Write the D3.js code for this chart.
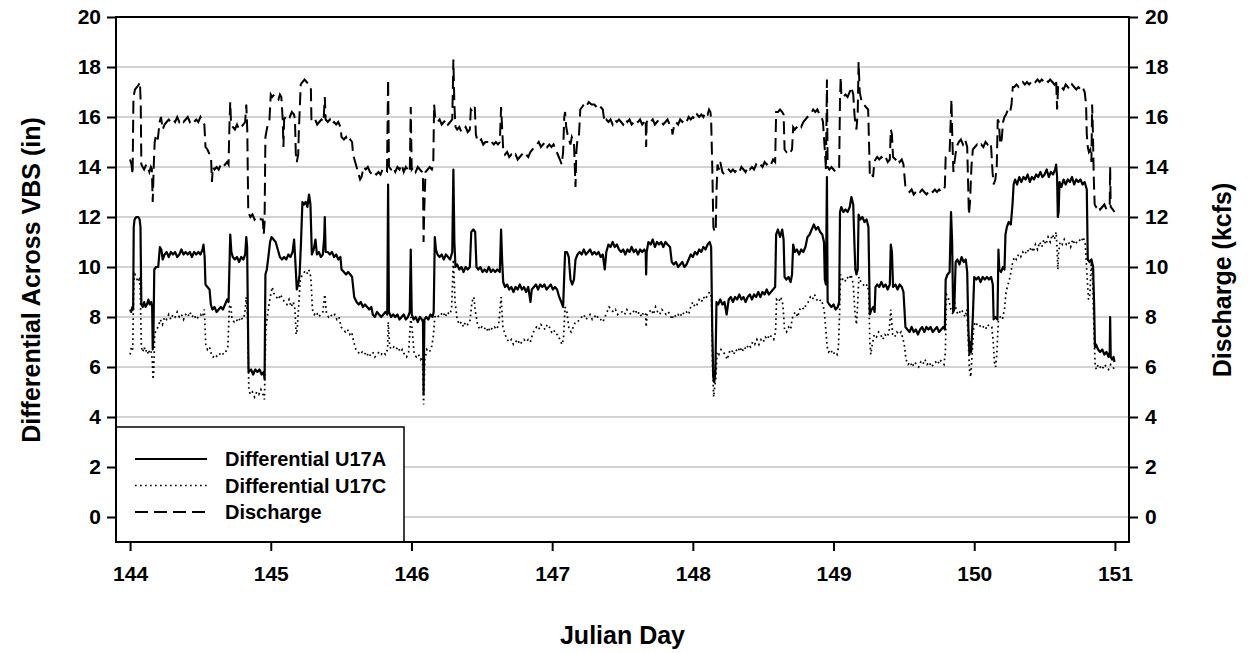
<!DOCTYPE html>
<html><head><meta charset="utf-8">
<script src="https://cdn.jsdelivr.net/npm/d3@7"></script>
<style>body{margin:0;background:#fff}svg{display:block}text{font-family:"Liberation Sans",Arial,sans-serif;font-weight:bold;fill:#000}</style>
</head><body><svg id="c" width="1248" height="653"></svg>
<script>
const xTicks=[144,145,146,147,148,149,150,151];
const yTicks=[0,2,4,6,8,10,12,14,16,18,20];
const legendLabels=["Differential U17A","Differential U17C","Discharge"];

const u17a=[[144.000,8.3],[144.008,8.2],[144.016,8.4],[144.022,8.3],[144.026,11.6],[144.032,11.9],[144.045,12.0],[144.058,12.0],[144.068,11.9],[144.074,11.6],[144.080,8.5],[144.090,8.4],[144.100,8.6],[144.110,8.4],[144.120,8.5],[144.130,8.7],[144.140,8.5],[144.150,8.6],[144.157,8.4],[144.161,6.7],[144.166,7.2],[144.172,9.9],[144.185,10.0],[144.200,10.0],[144.212,10.8],[144.222,10.7],[144.232,10.3],[144.245,10.5],[144.26,10.6],[144.275,10.4],[144.29,10.6],[144.305,10.5],[144.32,10.6],[144.335,10.4],[144.35,10.5],[144.365,10.7],[144.38,10.5],[144.395,10.6],[144.41,10.5],[144.425,10.6],[144.44,10.4],[144.455,10.6],[144.47,10.5],[144.485,10.6],[144.50,10.5],[144.515,10.7],[144.522,10.9],[144.530,10.4],[144.536,9.3],[144.55,9.2],[144.565,9.1],[144.574,8.5],[144.585,8.3],[144.60,8.4],[144.615,8.2],[144.63,8.3],[144.645,8.4],[144.66,8.3],[144.675,8.5],[144.69,8.7],[144.70,8.6],[144.712,11.3],[144.72,10.6],[144.73,10.4],[144.745,10.3],[144.76,10.4],[144.775,10.2],[144.79,10.4],[144.805,10.3],[144.818,10.5],[144.826,11.2],[144.832,10.8],[144.842,5.8],[144.86,5.9],[144.875,5.7],[144.89,5.9],[144.905,5.8],[144.92,5.9],[144.935,5.7],[144.95,5.8],[144.956,5.5],[144.962,9.7],[144.972,9.9],[144.985,10.5],[144.995,11.0],[145.005,11.2],[145.02,11.1],[145.035,11.0],[145.05,10.7],[145.065,10.4],[145.08,10.3],[145.095,10.4],[145.11,10.3],[145.125,10.5],[145.14,10.4],[145.155,10.6],[145.166,11.1],[145.175,10.2],[145.185,9.1],[145.195,9.3],[145.205,9.7],[145.215,11.0],[145.225,12.6],[145.235,12.5],[145.248,12.6],[145.26,12.4],[145.272,12.9],[145.282,12.5],[145.292,10.5],[145.305,10.7],[145.318,11.1],[145.328,10.5],[145.342,10.6],[145.356,10.4],[145.370,10.5],[145.38,11.2],[145.384,12.0],[145.39,10.6],[145.405,10.6],[145.42,10.5],[145.435,10.6],[145.45,10.4],[145.465,10.5],[145.48,10.3],[145.495,10.4],[145.503,9.9],[145.52,9.8],[145.535,9.7],[145.55,9.8],[145.565,9.7],[145.578,9.6],[145.593,8.8],[145.61,8.6],[145.625,8.5],[145.64,8.6],[145.655,8.4],[145.67,8.5],[145.685,8.4],[145.70,8.3],[145.715,8.4],[145.725,8.1],[145.74,8.0],[145.755,8.2],[145.77,8.1],[145.785,8.0],[145.80,8.1],[145.815,8.2],[145.828,8.1],[145.834,13.3],[145.840,8.2],[145.855,8.0],[145.87,8.1],[145.885,8.0],[145.90,8.1],[145.915,7.9],[145.93,8.0],[145.945,8.1],[145.96,7.9],[145.975,8.0],[145.988,8.2],[145.995,10.7],[146.002,8.1],[146.015,7.9],[146.03,8.0],[146.045,7.8],[146.06,8.0],[146.075,7.9],[146.082,7.8],[146.086,4.9],[146.092,7.9],[146.105,8.0],[146.12,7.9],[146.135,8.1],[146.15,8.0],[146.158,8.2],[146.166,11.2],[146.174,10.7],[146.185,10.5],[146.20,10.4],[146.215,10.5],[146.23,10.3],[146.245,10.5],[146.26,10.4],[146.275,10.3],[146.29,10.6],[146.298,13.9],[146.305,11.0],[146.313,10.0],[146.325,10.1],[146.34,9.9],[146.355,10.0],[146.37,9.8],[146.385,10.0],[146.40,9.9],[146.415,10.0],[146.425,11.4],[146.44,11.5],[146.453,11.4],[146.462,10.0],[146.475,9.9],[146.49,10.0],[146.505,9.8],[146.52,9.9],[146.535,9.8],[146.55,10.0],[146.565,9.8],[146.58,9.9],[146.595,9.8],[146.61,9.9],[146.628,9.8],[146.637,11.5],[146.645,10.2],[146.652,9.4],[146.665,9.2],[146.68,9.3],[146.695,9.1],[146.71,9.2],[146.725,9.0],[146.74,9.2],[146.755,9.1],[146.77,9.3],[146.785,9.1],[146.80,9.2],[146.815,9.0],[146.83,9.2],[146.846,8.6],[146.855,9.1],[146.87,9.2],[146.885,9.3],[146.90,9.1],[146.915,9.3],[146.93,9.2],[146.945,9.3],[146.96,9.1],[146.975,9.2],[146.99,9.3],[147.005,9.1],[147.02,9.2],[147.035,9.1],[147.05,8.8],[147.065,8.6],[147.078,8.4],[147.092,10.6],[147.105,10.6],[147.118,10.4],[147.13,9.5],[147.142,9.3],[147.155,9.5],[147.166,10.3],[147.18,10.5],[147.195,10.6],[147.21,10.5],[147.225,10.7],[147.24,10.5],[147.255,10.6],[147.27,10.7],[147.285,10.5],[147.30,10.6],[147.315,10.5],[147.33,10.6],[147.345,10.4],[147.36,10.5],[147.374,9.9],[147.385,10.6],[147.40,10.9],[147.415,10.8],[147.43,11.0],[147.445,10.8],[147.46,10.9],[147.475,10.7],[147.49,10.6],[147.505,10.7],[147.52,10.5],[147.535,10.7],[147.55,10.6],[147.565,10.8],[147.58,10.6],[147.595,10.7],[147.61,10.5],[147.625,10.7],[147.64,10.6],[147.655,10.7],[147.665,10.6],[147.668,9.7],[147.672,10.6],[147.684,11.0],[147.70,10.9],[147.715,11.1],[147.73,10.8],[147.745,11.0],[147.76,10.9],[147.775,11.0],[147.79,10.8],[147.805,11.0],[147.82,10.9],[147.838,10.8],[147.85,10.2],[147.865,10.1],[147.88,10.2],[147.895,10.0],[147.91,10.1],[147.925,10.2],[147.94,10.0],[147.955,10.1],[147.97,10.3],[147.985,10.5],[148.0,10.4],[148.015,10.6],[148.03,10.5],[148.045,10.7],[148.06,10.6],[148.075,10.8],[148.09,10.7],[148.105,10.9],[148.12,11.0],[148.13,10.8],[148.138,7.5],[148.145,5.6],[148.152,5.4],[148.160,5.8],[148.168,8.6],[148.18,8.5],[148.195,8.7],[148.21,8.5],[148.225,8.6],[148.24,8.1],[148.255,8.7],[148.27,8.8],[148.285,8.6],[148.30,8.8],[148.315,8.7],[148.33,8.9],[148.345,8.7],[148.36,8.8],[148.375,8.6],[148.39,8.8],[148.405,8.9],[148.42,8.7],[148.435,8.9],[148.45,8.8],[148.465,9.0],[148.48,8.8],[148.495,9.0],[148.51,8.9],[148.525,9.1],[148.54,8.9],[148.555,9.0],[148.57,9.1],[148.585,9.2],[148.592,11.3],[148.605,11.5],[148.62,11.2],[148.635,11.5],[148.645,11.1],[148.652,9.6],[148.665,9.5],[148.68,9.6],[148.695,9.4],[148.705,9.7],[148.713,10.9],[148.725,10.6],[148.74,10.7],[148.755,10.5],[148.77,10.7],[148.785,10.6],[148.80,10.8],[148.815,11.2],[148.83,11.3],[148.845,11.5],[148.86,11.7],[148.875,11.5],[148.89,11.6],[148.905,11.4],[148.92,11.3],[148.932,11.0],[148.938,9.5],[148.946,9.3],[148.953,13.6],[148.958,8.6],[148.97,8.5],[148.985,8.4],[149.0,8.5],[149.015,8.3],[149.03,8.4],[149.04,8.6],[149.046,12.2],[149.055,12.4],[149.07,12.2],[149.085,12.3],[149.10,12.2],[149.115,12.4],[149.127,12.8],[149.14,12.5],[149.148,11.0],[149.155,9.9],[149.163,9.7],[149.172,9.9],[149.178,12.1],[149.19,11.9],[149.205,12.0],[149.22,11.8],[149.235,11.9],[149.248,11.6],[149.258,8.1],[149.27,8.3],[149.282,8.4],[149.292,8.2],[149.298,9.2],[149.31,9.3],[149.325,9.2],[149.34,9.4],[149.355,9.2],[149.37,9.3],[149.385,9.1],[149.40,9.3],[149.407,10.9],[149.415,10.6],[149.423,9.2],[149.44,9.3],[149.455,9.1],[149.47,9.3],[149.485,9.2],[149.497,9.0],[149.511,7.6],[149.525,7.5],[149.54,7.4],[149.555,7.6],[149.57,7.4],[149.585,7.5],[149.60,7.3],[149.615,7.5],[149.63,7.6],[149.645,7.4],[149.66,7.6],[149.675,7.5],[149.69,7.6],[149.705,7.4],[149.72,7.5],[149.735,7.6],[149.75,7.4],[149.765,7.5],[149.78,7.6],[149.791,7.5],[149.797,9.5],[149.81,9.7],[149.825,9.8],[149.835,12.2],[149.843,11.0],[149.85,8.2],[149.858,8.3],[149.868,10.2],[149.88,10.3],[149.895,10.1],[149.91,10.4],[149.925,10.2],[149.94,10.3],[149.95,9.8],[149.958,7.6],[149.966,6.5],[149.972,7.0],[149.978,6.6],[149.99,8.0],[150.0,9.6],[150.015,9.5],[150.03,9.6],[150.045,9.4],[150.06,9.6],[150.075,9.5],[150.09,9.6],[150.105,9.5],[150.12,9.6],[150.132,9.3],[150.138,7.9],[150.15,8.0],[150.165,7.9],[150.172,10.7],[150.178,9.9],[150.19,9.8],[150.205,10.0],[150.215,9.9],[150.222,11.3],[150.232,11.6],[150.245,11.8],[150.26,11.7],[150.272,12.5],[150.28,13.3],[150.29,13.5],[150.305,13.3],[150.32,13.6],[150.335,13.4],[150.35,13.6],[150.365,13.5],[150.38,13.7],[150.395,13.4],[150.41,13.6],[150.425,13.5],[150.44,13.7],[150.455,13.6],[150.47,13.8],[150.485,13.6],[150.50,13.7],[150.515,13.9],[150.53,13.6],[150.545,13.8],[150.56,13.7],[150.575,13.9],[150.582,14.1],[150.589,13.6],[150.594,12.0],[150.600,12.2],[150.606,13.4],[150.62,13.2],[150.635,13.5],[150.65,13.3],[150.665,13.5],[150.68,13.4],[150.695,13.6],[150.71,13.3],[150.725,13.5],[150.74,13.4],[150.755,13.5],[150.77,13.3],[150.785,13.4],[150.80,13.1],[150.807,10.3],[150.82,10.2],[150.833,10.3],[150.845,10.0],[150.852,8.5],[150.858,6.8],[150.866,6.9],[150.88,6.7],[150.895,6.6],[150.91,6.7],[150.925,6.5],[150.94,6.6],[150.955,6.4],[150.963,6.6],[150.966,8.0],[150.97,6.4],[150.98,6.3],[150.99,6.4],[150.997,6.2]];

const u17c=[[144.0,6.5],[144.01,6.8],[144.019,6.7],[144.026,9.4],[144.035,9.7],[144.045,9.6],[144.055,9.4],[144.065,9.5],[144.072,9.2],[144.08,6.8],[144.09,6.6],[144.10,6.8],[144.11,6.6],[144.12,6.7],[144.13,6.5],[144.14,6.7],[144.15,6.6],[144.158,6.3],[144.163,5.5],[144.168,5.8],[144.175,7.3],[144.185,7.5],[144.20,7.6],[144.215,7.9],[144.23,7.7],[144.245,8.0],[144.26,7.9],[144.275,8.1],[144.29,7.9],[144.305,8.1],[144.32,8.0],[144.335,8.2],[144.35,8.0],[144.365,8.1],[144.38,7.9],[144.395,8.1],[144.41,8.0],[144.425,8.2],[144.44,8.0],[144.455,8.1],[144.47,7.9],[144.485,8.0],[144.50,8.1],[144.515,8.0],[144.528,8.3],[144.538,6.9],[144.55,6.7],[144.565,6.8],[144.578,6.5],[144.59,6.4],[144.605,6.5],[144.62,6.4],[144.635,6.5],[144.65,6.6],[144.665,6.5],[144.68,6.6],[144.695,6.8],[144.706,8.4],[144.715,8.5],[144.725,7.9],[144.74,7.8],[144.755,7.9],[144.77,7.8],[144.785,8.0],[144.80,7.9],[144.815,8.1],[144.826,8.8],[144.835,8.0],[144.844,5.1],[144.855,4.9],[144.87,5.0],[144.885,4.8],[144.90,5.0],[144.915,4.9],[144.93,5.1],[144.945,4.9],[144.955,4.7],[144.965,7.5],[144.975,8.0],[144.99,8.6],[145.0,8.9],[145.01,9.2],[145.025,8.9],[145.04,8.8],[145.055,8.7],[145.07,8.9],[145.085,8.7],[145.10,8.6],[145.115,8.5],[145.13,8.7],[145.145,8.4],[145.16,8.6],[145.172,8.3],[145.18,7.3],[145.188,7.5],[145.198,8.4],[145.21,9.5],[145.225,9.7],[145.24,9.8],[145.255,9.7],[145.27,9.9],[145.285,9.6],[145.296,8.3],[145.31,8.1],[145.325,8.2],[145.34,8.0],[145.355,8.1],[145.37,8.2],[145.384,8.9],[145.395,8.2],[145.41,8.0],[145.425,8.1],[145.44,8.0],[145.455,8.1],[145.47,7.9],[145.485,8.0],[145.50,7.6],[145.515,7.5],[145.53,7.4],[145.545,7.5],[145.56,7.3],[145.575,7.4],[145.59,7.0],[145.605,6.7],[145.62,6.6],[145.635,6.5],[145.65,6.6],[145.665,6.5],[145.68,6.6],[145.695,6.4],[145.71,6.5],[145.725,6.6],[145.74,6.4],[145.755,6.5],[145.77,6.6],[145.785,6.5],[145.80,6.6],[145.815,6.5],[145.83,6.7],[145.835,7.8],[145.845,6.8],[145.86,6.7],[145.875,6.8],[145.89,6.7],[145.905,6.8],[145.92,6.6],[145.935,6.7],[145.95,6.5],[145.965,6.4],[145.98,6.6],[145.995,8.0],[146.005,7.5],[146.02,6.5],[146.035,6.4],[146.05,6.5],[146.065,6.3],[146.078,6.4],[146.086,4.5],[146.095,6.3],[146.11,6.7],[146.125,6.6],[146.14,6.7],[146.155,7.2],[146.166,8.0],[146.18,8.1],[146.195,8.0],[146.21,8.1],[146.225,8.2],[146.24,8.0],[146.255,8.2],[146.27,8.1],[146.285,8.3],[146.298,10.3],[146.31,8.6],[146.325,7.9],[146.34,7.7],[146.355,7.8],[146.37,7.6],[146.385,7.8],[146.40,7.7],[146.415,7.8],[146.43,8.6],[146.443,8.8],[146.455,8.2],[146.47,7.7],[146.485,7.5],[146.50,7.6],[146.515,7.5],[146.53,7.6],[146.545,7.4],[146.56,7.6],[146.575,7.5],[146.59,7.6],[146.605,7.5],[146.62,7.7],[146.637,8.8],[146.65,7.6],[146.665,7.3],[146.68,7.1],[146.695,7.0],[146.71,7.1],[146.725,6.9],[146.74,7.0],[146.755,7.1],[146.77,6.9],[146.785,7.0],[146.80,7.1],[146.815,7.0],[146.83,7.1],[146.845,7.0],[146.86,7.3],[146.875,7.5],[146.89,7.6],[146.905,7.5],[146.92,7.7],[146.935,7.6],[146.95,7.5],[146.965,7.7],[146.98,7.6],[146.995,7.4],[147.01,7.5],[147.025,7.3],[147.04,7.3],[147.055,7.1],[147.07,6.9],[147.08,7.1],[147.092,8.4],[147.105,8.2],[147.12,7.5],[147.135,7.4],[147.15,7.6],[147.165,7.8],[147.18,7.8],[147.195,7.9],[147.21,8.0],[147.225,8.1],[147.24,7.9],[147.255,8.0],[147.27,8.1],[147.285,7.9],[147.30,8.0],[147.315,8.1],[147.33,7.9],[147.345,7.9],[147.36,7.8],[147.375,8.0],[147.39,8.2],[147.405,8.4],[147.42,8.3],[147.435,8.2],[147.45,8.3],[147.465,8.1],[147.48,8.2],[147.50,8.2],[147.515,8.1],[147.53,8.3],[147.545,8.2],[147.56,8.1],[147.575,8.2],[147.59,8.3],[147.605,8.1],[147.62,8.2],[147.635,8.0],[147.65,8.2],[147.665,8.1],[147.668,7.6],[147.675,8.1],[147.69,8.2],[147.705,8.3],[147.72,8.1],[147.735,8.4],[147.75,8.2],[147.765,8.1],[147.78,8.3],[147.795,8.2],[147.81,8.1],[147.825,8.2],[147.84,8.1],[147.85,7.9],[147.865,8.1],[147.88,8.0],[147.895,8.1],[147.91,8.0],[147.925,8.2],[147.94,8.1],[147.955,8.2],[147.97,8.1],[147.985,8.4],[148.0,8.6],[148.015,8.4],[148.03,8.5],[148.045,8.7],[148.06,8.6],[148.075,8.8],[148.09,8.7],[148.105,8.9],[148.12,9.0],[148.132,8.8],[148.14,6.0],[148.148,4.8],[148.155,5.2],[148.163,5.5],[148.172,6.6],[148.185,6.5],[148.20,6.7],[148.215,6.6],[148.23,6.5],[148.245,6.3],[148.26,6.6],[148.275,6.7],[148.29,6.5],[148.305,6.7],[148.32,6.6],[148.335,6.8],[148.35,6.6],[148.365,6.8],[148.38,6.7],[148.395,6.9],[148.41,6.8],[148.425,7.0],[148.44,6.9],[148.455,7.1],[148.47,6.9],[148.485,7.1],[148.50,7.0],[148.515,7.2],[148.53,7.1],[148.545,7.3],[148.56,7.2],[148.575,7.1],[148.588,7.4],[148.595,8.7],[148.61,8.6],[148.625,8.8],[148.64,8.5],[148.652,7.5],[148.665,7.4],[148.68,7.6],[148.695,7.5],[148.705,7.9],[148.715,8.1],[148.73,8.2],[148.745,8.0],[148.76,8.3],[148.775,8.4],[148.79,8.3],[148.805,8.5],[148.82,8.6],[148.835,8.8],[148.85,8.7],[148.865,8.9],[148.88,8.7],[148.895,8.6],[148.91,8.7],[148.925,8.5],[148.935,8.2],[148.945,7.5],[148.955,6.8],[148.965,6.6],[148.98,6.7],[148.995,6.5],[149.01,6.6],[149.025,6.5],[149.035,6.8],[149.042,8.0],[149.05,9.7],[149.065,9.5],[149.08,9.4],[149.095,9.6],[149.11,9.5],[149.125,9.7],[149.14,9.3],[149.152,8.2],[149.163,7.7],[149.172,8.6],[149.18,9.6],[149.195,9.4],[149.21,9.3],[149.225,9.2],[149.24,9.3],[149.25,9.0],[149.258,7.0],[149.265,6.5],[149.275,6.9],[149.29,7.3],[149.305,7.2],[149.32,7.4],[149.335,7.3],[149.35,7.1],[149.365,7.3],[149.38,7.2],[149.395,7.4],[149.407,8.3],[149.42,7.3],[149.435,7.2],[149.45,7.4],[149.465,7.3],[149.48,7.4],[149.495,7.1],[149.505,6.8],[149.515,6.3],[149.53,6.1],[149.545,6.2],[149.56,6.0],[149.575,6.2],[149.59,6.1],[149.605,6.0],[149.62,6.2],[149.635,6.1],[149.65,6.3],[149.665,6.1],[149.68,6.2],[149.695,6.0],[149.71,6.1],[149.725,6.2],[149.74,6.1],[149.755,6.3],[149.77,6.2],[149.785,6.1],[149.795,6.6],[149.803,8.9],[149.815,8.8],[149.83,8.4],[149.84,8.2],[149.85,8.1],[149.86,8.6],[149.875,8.2],[149.89,8.1],[149.905,8.3],[149.92,8.2],[149.935,8.0],[149.948,8.3],[149.958,7.0],[149.966,5.9],[149.975,5.6],[149.985,6.5],[149.995,7.5],[150.005,7.8],[150.02,7.7],[150.035,7.6],[150.05,7.7],[150.065,7.6],[150.08,7.5],[150.095,7.7],[150.11,7.6],[150.125,7.6],[150.135,7.0],[150.143,6.2],[150.152,6.0],[150.16,6.5],[150.172,7.9],[150.185,8.0],[150.20,7.9],[150.215,8.3],[150.226,9.0],[150.24,9.3],[150.255,9.6],[150.27,10.1],[150.285,10.4],[150.30,10.3],[150.315,10.5],[150.33,10.4],[150.345,10.6],[150.36,10.5],[150.375,10.7],[150.39,10.6],[150.405,10.8],[150.42,10.6],[150.435,10.9],[150.45,10.7],[150.465,11.0],[150.48,10.8],[150.495,11.1],[150.51,10.9],[150.525,11.2],[150.54,11.0],[150.555,11.3],[150.57,11.1],[150.582,11.4],[150.589,10.7],[150.594,9.9],[150.60,10.6],[150.61,11.0],[150.625,10.9],[150.64,11.1],[150.655,10.9],[150.67,11.0],[150.685,10.8],[150.70,11.1],[150.715,10.9],[150.73,11.0],[150.745,11.1],[150.76,11.0],[150.775,11.2],[150.79,10.9],[150.80,9.8],[150.812,8.7],[150.822,8.9],[150.832,10.2],[150.842,9.4],[150.852,7.2],[150.86,6.0],[150.87,5.9],[150.88,6.1],[150.895,6.0],[150.91,5.9],[150.925,6.1],[150.94,6.0],[150.955,5.9],[150.97,6.1],[150.985,6.0],[150.997,5.9]];

const discharge=[[144.0,14.3],[144.01,14.1],[144.018,13.7],[144.024,16.8],[144.035,17.1],[144.05,17.2],[144.062,17.3],[144.07,17.4],[144.076,16.5],[144.08,14.1],[144.09,14.0],[144.10,13.9],[144.115,14.1],[144.126,14.0],[144.137,13.8],[144.148,14.0],[144.155,13.9],[144.161,12.6],[144.168,14.0],[144.175,15.0],[144.185,15.3],[144.197,15.1],[144.21,15.8],[144.22,16.0],[144.232,15.5],[144.245,15.7],[144.26,15.8],[144.275,15.9],[144.29,15.8],[144.305,15.9],[144.32,15.8],[144.335,16.0],[144.35,15.8],[144.365,15.9],[144.38,15.8],[144.395,15.9],[144.41,16.0],[144.425,15.8],[144.44,15.9],[144.455,15.8],[144.47,15.9],[144.485,15.8],[144.50,16.0],[144.515,15.8],[144.528,15.7],[144.536,14.8],[144.55,14.7],[144.565,14.5],[144.576,14.3],[144.582,13.4],[144.588,14.0],[144.60,13.9],[144.615,14.0],[144.63,13.9],[144.645,14.1],[144.66,14.0],[144.675,14.1],[144.69,14.2],[144.70,14.1],[144.706,15.6],[144.712,16.6],[144.718,15.7],[144.73,15.6],[144.745,15.5],[144.76,15.7],[144.775,15.5],[144.79,15.6],[144.805,15.7],[144.818,15.8],[144.826,16.5],[144.833,15.5],[144.84,12.2],[144.855,12.0],[144.87,12.1],[144.885,11.9],[144.90,12.0],[144.915,12.0],[144.93,11.9],[144.943,11.9],[144.95,11.3],[144.956,11.8],[144.962,15.2],[144.975,15.6],[144.99,15.8],[145.0,16.9],[145.01,16.8],[145.025,16.9],[145.04,16.8],[145.055,16.7],[145.065,16.9],[145.075,16.8],[145.085,15.9],[145.09,14.8],[145.095,15.9],[145.105,16.0],[145.12,16.1],[145.135,16.0],[145.15,16.2],[145.165,16.1],[145.172,15.9],[145.178,14.5],[145.185,14.2],[145.195,14.5],[145.20,15.5],[145.213,17.3],[145.225,17.4],[145.24,17.5],[145.255,17.4],[145.27,17.3],[145.285,17.2],[145.289,15.9],[145.30,15.8],[145.315,15.9],[145.33,15.7],[145.345,15.8],[145.36,15.9],[145.375,15.8],[145.384,16.8],[145.39,15.9],[145.405,15.8],[145.42,15.9],[145.435,15.7],[145.45,15.8],[145.465,15.7],[145.48,15.8],[145.495,15.6],[145.503,15.2],[145.52,15.1],[145.535,15.2],[145.55,15.0],[145.565,15.1],[145.578,15.0],[145.585,14.5],[145.595,14.3],[145.605,14.1],[145.62,13.8],[145.635,13.5],[145.645,13.6],[145.66,14.0],[145.675,13.9],[145.69,14.0],[145.705,13.8],[145.72,13.7],[145.735,13.8],[145.75,13.7],[145.765,13.8],[145.78,13.7],[145.795,13.9],[145.81,13.8],[145.826,13.8],[145.834,17.5],[145.84,14.0],[145.855,13.9],[145.87,14.0],[145.885,13.8],[145.90,14.0],[145.915,13.9],[145.93,14.1],[145.945,13.8],[145.96,14.0],[145.975,13.9],[145.988,13.8],[145.995,16.4],[146.002,13.9],[146.015,14.0],[146.03,13.8],[146.045,14.0],[146.06,13.9],[146.075,13.8],[146.082,13.5],[146.086,11.0],[146.092,12.5],[146.10,13.8],[146.115,13.9],[146.13,14.0],[146.145,13.9],[146.155,14.1],[146.161,16.5],[146.17,15.9],[146.185,15.8],[146.20,15.9],[146.215,15.7],[146.23,15.8],[146.245,15.9],[146.26,15.7],[146.275,15.8],[146.29,15.9],[146.298,18.3],[146.305,16.5],[146.313,15.6],[146.325,15.5],[146.34,15.6],[146.355,15.4],[146.37,15.5],[146.385,15.6],[146.40,15.4],[146.415,15.5],[146.422,16.3],[146.435,16.2],[146.45,16.4],[146.458,15.3],[146.467,15.1],[146.48,15.0],[146.495,15.1],[146.51,14.9],[146.525,15.0],[146.54,15.0],[146.555,14.9],[146.57,15.0],[146.585,14.9],[146.60,15.0],[146.615,14.9],[146.628,15.0],[146.637,16.4],[146.645,15.5],[146.652,14.7],[146.665,14.5],[146.68,14.6],[146.695,14.4],[146.71,14.5],[146.725,14.4],[146.74,14.5],[146.755,14.3],[146.77,14.4],[146.785,14.5],[146.80,14.4],[146.815,14.5],[146.83,14.4],[146.845,14.6],[146.86,14.7],[146.875,14.8],[146.89,14.9],[146.905,15.0],[146.92,14.8],[146.935,14.9],[146.95,15.0],[146.965,14.8],[146.98,14.9],[146.995,14.8],[147.01,14.9],[147.025,14.7],[147.04,14.5],[147.055,14.3],[147.068,14.1],[147.078,14.6],[147.086,16.0],[147.092,16.2],[147.10,15.6],[147.11,15.3],[147.12,15.1],[147.13,14.9],[147.14,15.2],[147.155,15.0],[147.166,13.2],[147.172,14.6],[147.18,15.1],[147.19,15.2],[147.2,16.3],[147.213,16.4],[147.225,16.5],[147.24,16.4],[147.26,16.6],[147.28,16.5],[147.30,16.5],[147.315,16.4],[147.33,16.5],[147.345,16.4],[147.36,16.3],[147.372,15.8],[147.385,15.9],[147.40,15.8],[147.415,15.9],[147.43,15.7],[147.445,15.9],[147.46,15.8],[147.475,15.9],[147.49,15.8],[147.505,15.7],[147.52,15.9],[147.535,15.8],[147.55,15.9],[147.565,15.7],[147.58,15.8],[147.595,15.9],[147.61,15.8],[147.625,15.9],[147.64,15.7],[147.655,15.8],[147.665,15.9],[147.668,14.8],[147.672,15.8],[147.685,15.9],[147.70,15.8],[147.715,15.9],[147.73,15.7],[147.745,15.8],[147.76,15.9],[147.775,15.8],[147.79,15.7],[147.805,15.8],[147.82,15.9],[147.835,15.7],[147.85,15.6],[147.855,15.3],[147.865,15.6],[147.88,15.8],[147.895,15.7],[147.91,15.9],[147.925,15.8],[147.94,15.9],[147.955,15.8],[147.97,16.0],[147.985,15.9],[148.0,16.0],[148.015,15.9],[148.03,16.1],[148.045,16.0],[148.06,16.1],[148.075,16.0],[148.09,16.2],[148.105,16.1],[148.115,16.3],[148.125,16.2],[148.13,15.9],[148.138,14.0],[148.146,11.6],[148.155,11.4],[148.163,11.5],[148.168,13.0],[148.175,14.1],[148.185,13.9],[148.195,14.2],[148.21,13.8],[148.225,13.7],[148.24,13.8],[148.255,13.9],[148.27,13.8],[148.285,13.9],[148.30,13.8],[148.315,13.9],[148.33,13.8],[148.345,14.0],[148.36,13.9],[148.375,13.8],[148.39,14.0],[148.405,13.9],[148.42,14.0],[148.435,13.9],[148.45,14.1],[148.465,14.0],[148.48,14.1],[148.495,14.0],[148.51,14.2],[148.525,14.1],[148.54,14.2],[148.555,14.1],[148.57,14.3],[148.585,14.2],[148.592,16.2],[148.605,16.2],[148.62,16.3],[148.635,16.2],[148.645,16.1],[148.652,14.7],[148.665,14.6],[148.68,14.7],[148.695,14.6],[148.705,14.7],[148.713,15.6],[148.725,15.5],[148.74,15.6],[148.755,15.7],[148.77,15.6],[148.785,15.8],[148.80,15.9],[148.815,16.0],[148.83,16.1],[148.845,16.2],[148.855,16.3],[148.87,16.2],[148.885,16.3],[148.90,16.1],[148.915,16.0],[148.925,15.8],[148.933,15.1],[148.94,14.5],[148.946,13.9],[148.953,17.5],[148.958,14.0],[148.97,13.9],[148.985,14.0],[149.0,13.9],[149.015,13.8],[149.03,13.9],[149.04,14.0],[149.046,16.7],[149.051,17.6],[149.056,16.8],[149.07,16.8],[149.085,16.9],[149.10,16.8],[149.115,17.0],[149.127,17.2],[149.14,16.9],[149.15,16.0],[149.163,15.5],[149.172,16.2],[149.178,18.2],[149.186,17.0],[149.20,16.6],[149.215,16.5],[149.23,16.4],[149.246,16.3],[149.252,15.0],[149.258,13.7],[149.27,13.8],[149.281,13.6],[149.29,14.2],[149.298,14.3],[149.31,14.4],[149.325,14.3],[149.34,14.4],[149.355,14.3],[149.37,14.4],[149.385,14.2],[149.40,14.3],[149.407,15.5],[149.415,15.3],[149.423,14.4],[149.44,14.3],[149.455,14.4],[149.47,14.2],[149.485,14.3],[149.497,14.1],[149.511,13.2],[149.525,13.1],[149.54,13.0],[149.555,13.1],[149.57,12.9],[149.585,13.0],[149.60,13.1],[149.615,13.0],[149.63,13.1],[149.645,13.0],[149.66,12.9],[149.675,13.0],[149.69,13.1],[149.705,13.0],[149.72,13.1],[149.735,13.0],[149.75,13.1],[149.765,13.0],[149.78,13.1],[149.791,13.2],[149.797,14.4],[149.81,14.5],[149.825,14.6],[149.838,16.7],[149.845,15.0],[149.852,13.8],[149.86,14.2],[149.874,14.8],[149.89,15.0],[149.905,15.1],[149.92,14.9],[149.935,15.1],[149.95,14.8],[149.958,13.0],[149.962,12.1],[149.97,12.6],[149.98,14.0],[149.99,14.7],[150.005,14.8],[150.02,14.9],[150.035,14.8],[150.05,14.9],[150.065,14.8],[150.08,15.0],[150.095,14.9],[150.11,15.0],[150.12,14.8],[150.13,13.8],[150.138,13.3],[150.15,13.5],[150.16,14.0],[150.167,15.9],[150.175,15.8],[150.185,14.9],[150.195,15.1],[150.205,15.8],[150.215,16.0],[150.226,16.1],[150.24,16.3],[150.255,16.2],[150.265,16.5],[150.274,17.2],[150.285,17.2],[150.30,17.3],[150.315,17.2],[150.33,17.3],[150.345,17.4],[150.36,17.3],[150.375,17.4],[150.39,17.3],[150.405,17.4],[150.42,17.5],[150.435,17.4],[150.45,17.5],[150.465,17.4],[150.48,17.5],[150.495,17.4],[150.51,17.5],[150.525,17.4],[150.54,17.5],[150.555,17.4],[150.57,17.3],[150.582,17.5],[150.589,16.3],[150.596,17.2],[150.606,17.3],[150.62,17.2],[150.635,17.1],[150.65,17.3],[150.665,17.2],[150.68,17.1],[150.695,17.3],[150.71,17.2],[150.725,17.1],[150.74,17.2],[150.755,17.1],[150.77,17.2],[150.785,17.0],[150.795,16.5],[150.80,15.3],[150.807,14.8],[150.815,14.6],[150.825,14.7],[150.833,14.2],[150.838,16.5],[150.843,15.5],[150.85,13.5],[150.856,12.5],[150.866,12.4],[150.88,12.5],[150.895,12.3],[150.91,12.4],[150.925,12.5],[150.94,12.3],[150.955,12.4],[150.963,12.5],[150.966,14.0],[150.97,12.4],[150.985,12.3],[150.997,12.2]];

const svg=d3.select("#c");
const L=116,R=1129,T=17,B=542;
const x=d3.scaleLinear().domain([143.9,151.1]).range([L,R]);
const y=d3.scaleLinear().domain([-1,20]).range([B,T]);
const y2=d3.scaleLinear().domain([-1,20]).range([B,T]);

svg.append("rect").attr("width",1248).attr("height",653).attr("fill","#fff");

svg.append("g").selectAll("line").data(yTicks.filter(d=>d<20)).join("line")
  .attr("x1",L).attr("x2",R).attr("y1",d=>y(d)).attr("y2",d=>y(d))
  .attr("stroke","#c4c4c4").attr("stroke-width",1.5);

const line=d3.line().x(d=>x(d[0])).y(d=>y(d[1]));
const line2=d3.line().x(d=>x(d[0])).y(d=>y2(d[1]));

svg.append("path").attr("d",line2(discharge)).attr("fill","none").attr("stroke","#000")
  .attr("stroke-width",2).attr("stroke-dasharray","13,6");
svg.append("path").attr("d",line(u17c)).attr("fill","none").attr("stroke","#000")
  .attr("stroke-width",1.7).attr("stroke-dasharray","1.7,3.3");
svg.append("path").attr("d",line(u17a)).attr("fill","none").attr("stroke","#000")
  .attr("stroke-width",2.2).attr("stroke-linejoin","round");

const fs="21px";
const ax=svg.append("g").attr("transform",`translate(0,${B})`)
  .call(d3.axisBottom(x).tickValues(xTicks).tickFormat(d3.format("d")).tickSize(9).tickPadding(15));
const ay=svg.append("g").attr("transform",`translate(${L},0)`)
  .call(d3.axisLeft(y).tickValues(yTicks).tickSize(9).tickPadding(6));
const ay2=svg.append("g").attr("transform",`translate(${R},0)`)
  .call(d3.axisRight(y2).tickValues(yTicks).tickSize(9).tickPadding(7));
[ax,ay,ay2].forEach(g=>{
  g.select(".domain").remove();
  g.selectAll(".tick line").attr("stroke","#000").attr("stroke-width",2);
  g.selectAll(".tick text").attr("font-size",fs).attr("font-weight","bold")
   .attr("font-family","Liberation Sans, Arial, sans-serif");
});

const lg=svg.append("g");
lg.append("rect").attr("x",L).attr("y",427).attr("width",288).attr("height",B-427)
  .attr("fill","#fff").attr("stroke","#000").attr("stroke-width",1.5);
const dashes=[null,"1.7,3.3","13,6"];
legendLabels.forEach((t,i)=>{
  const yy=459+i*26.5;
  lg.append("line").attr("x1",135).attr("x2",207).attr("y1",yy).attr("y2",yy)
    .attr("stroke","#000").attr("stroke-width",i===1?1.7:2).attr("stroke-dasharray",dashes[i]);
  lg.append("text").attr("x",225).attr("y",yy+7).attr("font-size","20px").text(t);
});

svg.append("rect").attr("x",L).attr("y",T).attr("width",R-L).attr("height",B-T)
  .attr("fill","none").attr("stroke","#000").attr("stroke-width",2);

svg.append("text").attr("x",(x(144)+x(151))/2).attr("y",644).attr("text-anchor","middle")
  .attr("font-size","25px").text("Julian Day");
svg.append("text").attr("transform",`translate(40,280) rotate(-90)`).attr("text-anchor","middle")
  .attr("font-size","25px").text("Differential Across VBS (in)");
svg.append("text").attr("transform",`translate(1231,280) rotate(-90)`).attr("text-anchor","middle")
  .attr("font-size","25px").text("Discharge (kcfs)");
</script></body></html>
